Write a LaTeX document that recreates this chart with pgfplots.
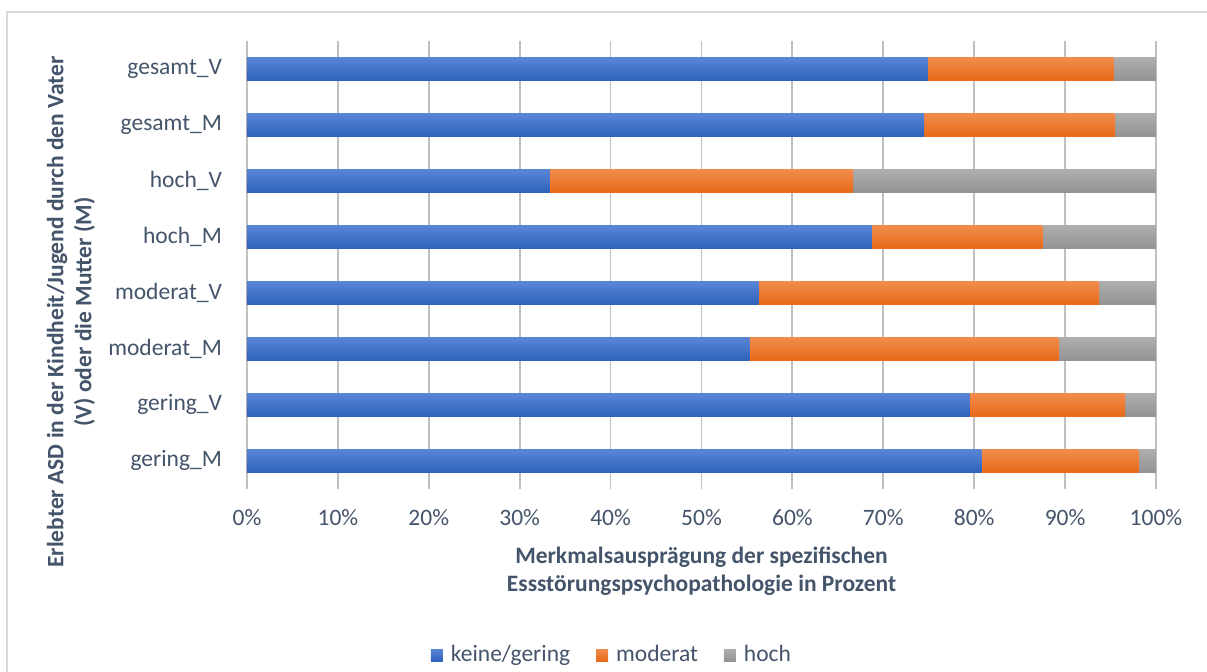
\documentclass[border=0pt]{standalone}
\usepackage{pgfplots}
\pgfplotsset{compat=1.18}
\usepackage{fontspec}
\setmainfont{Carlito}
\definecolor{txt}{HTML}{44546A}
\definecolor{grid}{RGB}{217,222,230}
\definecolor{border}{RGB}{217,217,217}
\definecolor{bluetop}{HTML}{5B86D6}
\definecolor{bluebot}{HTML}{2F62BC}
\definecolor{orgtop}{HTML}{F28C4E}
\definecolor{orgbot}{HTML}{E96A19}
\definecolor{gratop}{HTML}{AEAEAE}
\definecolor{grabot}{HTML}{949494}
\pgfplotsset{
  bl/.style={draw=none, top color=bluetop, bottom color=bluebot, forget plot},
  og/.style={draw=none, top color=orgtop, bottom color=orgbot, forget plot},
  gr/.style={draw=none, top color=gratop, bottom color=grabot, forget plot},
}
\begin{document}
\begin{tikzpicture}
\useasboundingbox (-123.5pt,-91.25pt) rectangle (480pt,244.25pt);
\fill[white] (-123.5pt,-91.25pt) rectangle (480pt,244.25pt);
\draw[border, line width=0.8pt] (-120pt,-95.75pt) rectangle (484pt,238.25pt);
\begin{axis}[
  at={(0,0)}, anchor=south west,
  scale only axis,
  width=454.5pt, height=224pt,
  xbar, bar shift=0pt,
  bar width=11.5pt,
  xmin=0, xmax=100,
  ymin=-0.5, ymax=7.5,
  axis line style={draw=none},
  major tick length=0pt,
  xtick={0,10,...,100},
  xticklabels={0\%,10\%,20\%,30\%,40\%,50\%,60\%,70\%,80\%,90\%,100\%},
  ytick={0,...,7},
  yticklabels={gering\_M,gering\_V,moderat\_M,moderat\_V,hoch\_M,hoch\_V,gesamt\_M,gesamt\_V},
  xmajorgrids, grid style={grid, line width=0.9pt},
  every tick label/.append style={font=\fontsize{11.75}{14}\selectfont, text=txt},
  xticklabel style={yshift=-7pt},
  yticklabel style={xshift=-9pt},
  xlabel={Merkmalsausprägung der spezifischen\\Essstörungspsychopathologie in Prozent},
  xlabel style={font=\fontsize{11.75}{14}\selectfont\bfseries, text=txt, align=center, at={(rel axis cs:0.5,-0.184)}, anchor=center},
  ylabel={Erlebter ASD in der Kindheit/Jugend durch den Vater\\(V) oder die Mutter (M)},
  ylabel style={font=\fontsize{11.75}{14}\selectfont\bfseries, text=txt, align=center, at={(rel axis cs:-0.1936,0.394)}, anchor=center},
  legend style={draw=none, fill=none, at={(rel axis cs:0.4026,-0.3717)}, anchor=center, legend columns=-1, font=\fontsize{11.75}{14}\selectfont, text=txt, /tikz/every even column/.append style={column sep=11pt}},
]
% hoch (right end = 100 %)
\addplot[gr] coordinates {(100,0)};
\addplot[gr] coordinates {(100,1)};
\addplot[gr] coordinates {(100,2)};
\addplot[gr] coordinates {(100,3)};
\addplot[gr] coordinates {(100,4)};
\addplot[gr] coordinates {(100,5)};
\addplot[gr] coordinates {(100,6)};
\addplot[gr] coordinates {(100,7)};
% moderat (cumulative right end)
\addplot[og] coordinates {(98.1,0)};
\addplot[og] coordinates {(96.6,1)};
\addplot[og] coordinates {(89.3,2)};
\addplot[og] coordinates {(93.75,3)};
\addplot[og] coordinates {(87.5,4)};
\addplot[og] coordinates {(66.67,5)};
\addplot[og] coordinates {(95.5,6)};
\addplot[og] coordinates {(95.3,7)};
% keine/gering
\addplot[bl] coordinates {(80.8,0)};
\addplot[bl] coordinates {(79.5,1)};
\addplot[bl] coordinates {(55.3,2)};
\addplot[bl] coordinates {(56.25,3)};
\addplot[bl] coordinates {(68.75,4)};
\addplot[bl] coordinates {(33.33,5)};
\addplot[bl] coordinates {(74.5,6)};
\addplot[bl] coordinates {(74.9,7)};
\addlegendimage{draw=none, legend image code/.code={\path[draw=none, fill=none] (8pt,0pt); \fill[draw=none, top color=bluetop, bottom color=bluebot] (0pt,-3pt) rectangle (6pt,3pt);}}
\addlegendentry{keine/gering}
\addlegendimage{draw=none, legend image code/.code={\path[draw=none, fill=none] (8pt,0pt); \fill[draw=none, top color=orgtop, bottom color=orgbot] (0pt,-3pt) rectangle (6pt,3pt);}}
\addlegendentry{moderat}
\addlegendimage{draw=none, legend image code/.code={\path[draw=none, fill=none] (8pt,0pt); \fill[draw=none, top color=gratop, bottom color=grabot] (0pt,-3pt) rectangle (6pt,3pt);}}
\addlegendentry{hoch}
\end{axis}
\end{tikzpicture}
\end{document}
